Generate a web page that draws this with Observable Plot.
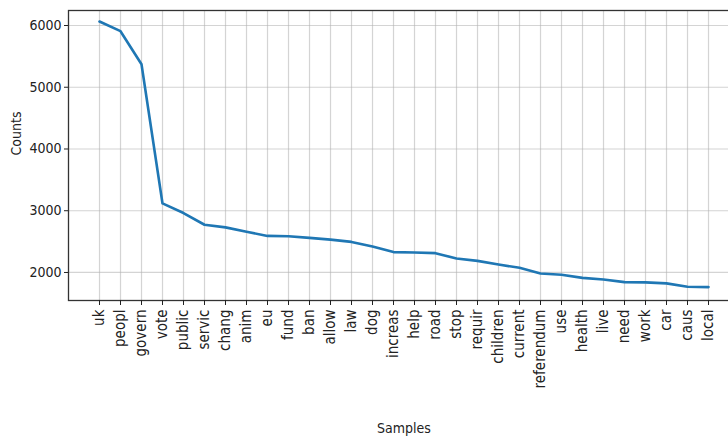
<!DOCTYPE html>
<html>
<head>
<meta charset="utf-8">
<script src="https://cdn.jsdelivr.net/npm/d3@7"></script>
<script src="https://cdn.jsdelivr.net/npm/@observablehq/plot@0.6"></script>
<style>
  html, body { margin: 0; padding: 0; background: #fff; overflow: hidden; }
  #chart svg { display: block; }
</style>
</head>
<body>
<div id="chart"></div>
<script>
const samples = ["uk","peopl","govern","vote","public","servic","chang","anim","eu","fund","ban","allow","law","dog","increas","help","road","stop","requir","children","current","referendum","use","health","live","need","work","car","caus","local"];
const counts = [6065,5908,5372,3118,2963,2773,2730,2660,2592,2587,2560,2532,2495,2420,2330,2323,2313,2226,2188,2129,2075,1984,1962,1913,1887,1844,1839,1823,1768,1763];
const yTicks = [2000,3000,4000,5000,6000];

const data = samples.map((s, i) => ({sample: s, count: counts[i]}));
const font = "'DejaVu Sans Condensed', 'DejaVu Sans', sans-serif";

const chart = Plot.plot({
  width: 728,
  height: 445,
  marginLeft: 68,
  marginRight: -15,
  marginTop: 10,
  marginBottom: 145,
  style: {fontFamily: font, fontSize: "14px", color: "#222", background: "#fff", overflow: "hidden"},
  x: {type: "point", domain: samples, range: [98, 708], padding: 0},
  y: {domain: [1546, 6243], range: [300, 10]},
  marks: [
    Plot.ruleX(samples, {x: d => d, stroke: "#b0b0b0", strokeOpacity: 0.55, strokeWidth: 1.2}),
    Plot.ruleY(yTicks, {y: d => d, stroke: "#b0b0b0", strokeOpacity: 0.55, strokeWidth: 1.2}),
    Plot.line(data, {x: "sample", y: "count", stroke: "#1f77b4", strokeWidth: 2.6, strokeLinejoin: "round"}),
    Plot.frame({stroke: "#333", strokeWidth: 1.3}),
    Plot.axisY({ticks: yTicks, tickFormat: d3.format("d"), tickSize: 4, tickPadding: 3, label: null, fontSize: 14}),
    Plot.axisX({tickSize: 5, tickPadding: 4, tickRotate: -90, label: null, fontSize: 15}),
    Plot.text(["Counts"], {frameAnchor: "left", dx: -52, rotate: -90, fontSize: 14, fill: "#222"}),
    Plot.text(["Samples"], {frameAnchor: "bottom", dy: 132, dx: -2, fontSize: 14, fill: "#222"})
  ]
});
document.getElementById("chart").appendChild(chart);
</script>
</body>
</html>
